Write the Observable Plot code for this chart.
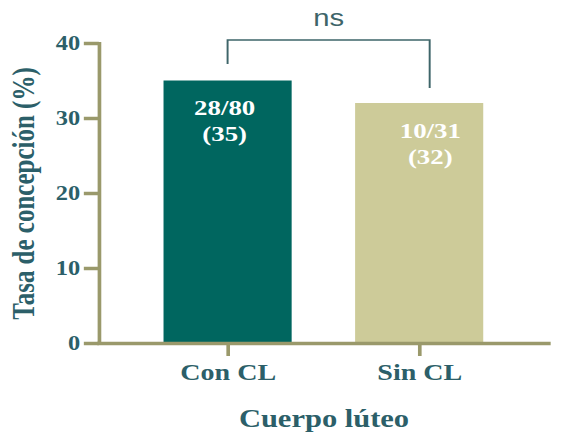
<!DOCTYPE html>
<html><head><meta charset="utf-8">
<script src="https://cdn.jsdelivr.net/npm/d3@7"></script>
<script src="https://cdn.jsdelivr.net/npm/@observablehq/plot@0.6"></script>
<style>
html,body{margin:0;padding:0;background:#fff;}
#chart{width:565px;height:446px;overflow:hidden;}
</style></head><body><div id="chart"></div>
<script>
// ---- data ----
const categories = ["Con CL", "Sin CL"];
const rates = [35, 32];
const pregnant = [28, 10];
const totals = [80, 31];
const yTicks = [0, 10, 20, 30, 40];
const xTitle = "Cuerpo lúteo";
const yTitle = "Tasa de concepción (%)";
const sigLabel = "ns";
// bracket annotation levels (in % units)
const bracketTop = 40.4, bracketLeftEnd = 37.2, bracketRightEnd = 34.0;

const data = categories.map((c, i) => ({cat: c, rate: rates[i], label: `${pregnant[i]}/${totals[i]}\n(${rates[i]})`}));

// ---- styles ----
const darkFill = "#00665f", lightFill = "#cdcb99";
const axisColor = "#9a996b", textColor = "#2c5f69", bracketColor = "#3e6569";
const SX = 1.22;                 // horizontal stretch of the reference
const W = Math.round(565 / SX);  // internal width

function bracketMark(index, scales) {
  const x = scales.x, y = scales.y;
  let bw = x.bandwidth; if (typeof bw === "function") bw = bw();
  const xl = x(categories[0]) + bw / 2;
  const xr = x(categories[1]) + bw / 2 + 8.6;
  const g = d3.create("svg:g");
  g.append("path")
    .attr("d", `M${xl},${y(bracketLeftEnd)}V${y(bracketTop)}H${xr}V${y(bracketRightEnd)}`)
    .attr("fill", "none").attr("stroke", bracketColor).attr("stroke-width", 1.6);
  g.append("text")
    .attr("x", (xl + xr) / 2).attr("y", y(bracketTop) - 14)
    .attr("text-anchor", "middle")
    .attr("font-family", "'Liberation Sans', Arial, sans-serif")
    .attr("font-size", 24).attr("fill", bracketColor)
    .text(sigLabel);
  return g.node();
}

const labelStyle = {x: "cat", y: "rate", text: "label", lineAnchor: "top", dy: 15.9,
  fontSize: 22, fontWeight: "bold", fill: "white", lineHeight: 1.18};

const plot = Plot.plot({
  width: W, height: 446,
  marginLeft: 81, marginRight: 14, marginTop: 43, marginBottom: 103,
  style: {fontFamily: "'Liberation Serif', 'Times New Roman', serif", background: "white"},
  x: {domain: categories, range: [133.6, 395.8], paddingInner: 0.33, paddingOuter: 0},
  y: {domain: [0, 40]},
  color: {domain: categories, range: [darkFill, lightFill]},
  marks: [
    Plot.barY(data, {x: "cat", y: "rate", fill: "cat"}),
    Plot.text(data, {...labelStyle, filter: d => d.cat === categories[0], dx: -2.9}),
    Plot.text(data, {...labelStyle, filter: d => d.cat === categories[1], dx: 8.6}),
    Plot.frame({anchor: "left", stroke: axisColor, strokeWidth: 3}),
    Plot.frame({anchor: "bottom", stroke: axisColor, strokeWidth: 3.5}),
    Plot.axisY({ticks: yTicks, tickSize: 12.3, tickPadding: 3.5, stroke: axisColor, strokeWidth: 3.5,
      fill: textColor, fontSize: 20, fontWeight: "bold", label: null, tickFormat: d => String(d)}),
    Plot.axisX({tickSize: 13, tickPadding: 7.5, stroke: axisColor, strokeWidth: 3,
      fill: textColor, fontSize: 23, fontWeight: "bold", label: null}),
    Plot.text([yTitle], {frameAnchor: "left", rotate: -90, dx: -54, lineAnchor: "bottom", textAnchor: "middle",
      fontSize: 25, fontWeight: "bold", fill: textColor}),
    Plot.text([xTitle], {frameAnchor: "bottom", dy: 83, lineAnchor: "bottom", textAnchor: "middle",
      fontSize: 25, fontWeight: "bold", fill: textColor}),
    bracketMark
  ]
});

plot.setAttribute("width", 565);
plot.setAttribute("preserveAspectRatio", "none");
plot.style.width = "565px";
plot.style.height = "446px";
plot.style.maxWidth = "none";
plot.style.overflow = "visible";
document.getElementById("chart").appendChild(plot);
</script>
</body></html>
